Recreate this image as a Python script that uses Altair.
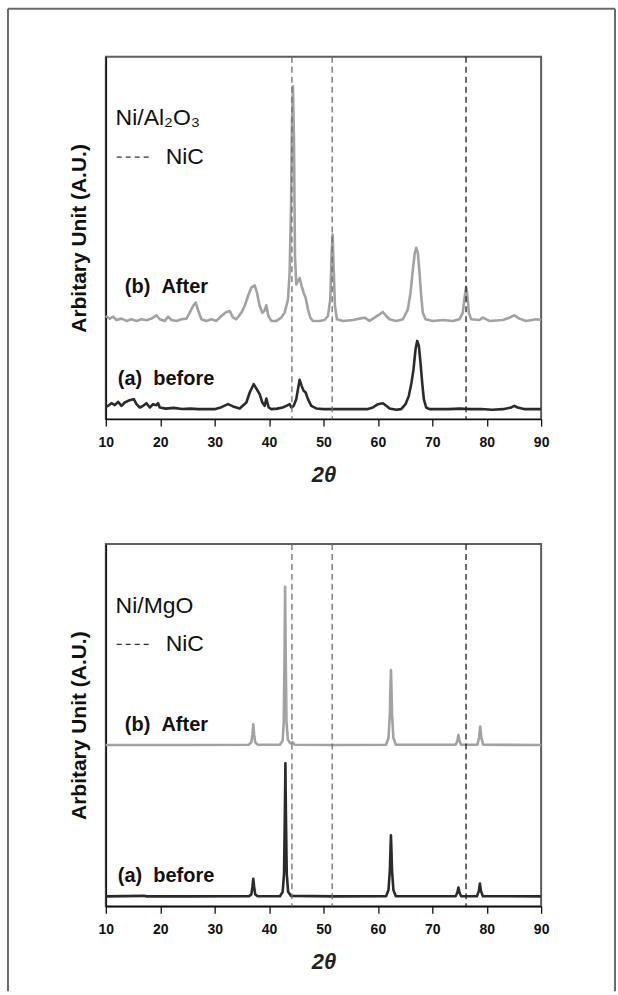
import altair as alt
import pandas as pd

# ---------------- text / categories ----------------
X_TICKS = [10, 20, 30, 40, 50, 60, 70, 80, 90]
NIC_PEAKS = [44.2, 51.6, 76.2]
PANEL_NAMES = ["Ni/Al₂O₃", "Ni/MgO"]
LEGEND_NAME = "NiC"
SERIES_NAMES = ["(b)\u00a0\u00a0After", "(a)\u00a0\u00a0before"]
X_TITLE = "2θ"
Y_TITLE = "Arbitary Unit (A.U.)"

# ---------------- Ni/Al2O3 : (a) before ----------------
AL_BEFORE_THETA = [10.0, 10.43, 11.04, 11.65, 12.26, 12.88, 13.49, 14.10, 14.71, 15.14,
                   15.63, 16.24, 16.85, 17.47, 18.08, 18.69, 19.30, 19.61, 19.91, 21.0,
                   22.5, 24.0, 25.5, 27.0, 28.5, 30.0, 31.24, 32.46, 33.38, 34.60,
                   35.83, 36.44, 37.17, 37.66, 38.27, 38.76, 39.19, 39.50, 39.93, 40.42,
                   41.5, 42.5, 43.17, 43.78, 44.09, 44.52, 45.0, 45.31, 45.62, 45.99,
                   46.35, 46.72, 47.15, 47.76, 48.68, 50.0, 52.0, 54.0, 56.0, 58.0,
                   59.08, 60.0, 60.92, 61.53, 62.14, 63.37, 64.28, 65.08, 65.69, 66.18,
                   66.55, 66.92, 67.22, 67.53, 67.83, 68.14, 68.44, 68.87, 69.49, 71.0,
                   73.0, 75.0, 77.0, 79.0, 81.0, 83.0, 84.48, 85.09, 85.7, 87.0,
                   88.5, 90.0]
AL_BEFORE_VALUE = [3.4, 3.67, 4.40, 3.85, 4.77, 3.67, 4.59, 5.05, 5.32, 5.51,
                   4.13, 3.21, 3.67, 4.40, 3.21, 4.13, 3.85, 4.40, 3.21, 2.9,
                   3.1, 2.8, 2.9, 2.75, 2.8, 2.75, 3.3, 4.13, 3.5, 2.94,
                   4.59, 7.34, 9.64, 8.44, 6.88, 4.59, 3.67, 5.69, 3.21, 2.75,
                   2.9, 3.2, 3.67, 4.13, 3.21, 3.67, 5.51, 8.26, 10.84, 9.18,
                   7.80, 7.34, 5.51, 3.67, 2.94, 2.75, 2.8, 2.75, 2.8, 2.75,
                   3.21, 4.13, 4.40, 3.67, 2.94, 2.57, 2.75, 4.13, 6.42, 10.1,
                   13.77, 19.28, 21.58, 20.2, 15.6, 10.1, 5.51, 3.21, 2.75, 2.8,
                   2.75, 2.9, 2.75, 2.8, 2.6, 2.75, 3.21, 3.67, 3.21, 2.75,
                   2.8, 2.75]

# ---------------- Ni/Al2O3 : (b) After ----------------
AL_AFTER_THETA = [10.0, 10.73, 11.35, 11.96, 12.88, 13.79, 14.71, 15.63, 16.55, 17.47,
                  18.38, 19.30, 19.91, 20.83, 21.44, 22.06, 22.97, 23.89, 24.81, 25.42,
                  26.03, 26.52, 27.01, 27.56, 28.48, 29.40, 30.32, 31.24, 32.15, 32.77,
                  33.38, 33.99, 34.91, 35.52, 36.13, 36.74, 37.36, 37.78, 38.27, 38.76,
                  39.13, 39.50, 39.87, 40.42, 41.33, 42.25, 42.86, 43.48, 43.78, 44.03,
                  44.21, 44.39, 44.58, 44.76, 45.0, 45.31, 45.62, 45.99, 46.35, 46.72,
                  47.15, 47.58, 48.07, 49.29, 50.21, 50.82, 51.25, 51.5, 51.68, 51.86,
                  52.11, 52.47, 53.57, 55.41, 56.63, 57.55, 58.47, 59.39, 60.31, 60.92,
                  61.53, 62.14, 63.37, 64.59, 65.51, 66.0, 66.43, 66.79, 67.04, 67.34,
                  67.65, 67.96, 68.26, 68.75, 70.10, 71.93, 73.77, 74.99, 75.61, 75.97,
                  76.22, 76.46, 76.71, 77.14, 78.67, 79.28, 80.51, 82.95, 84.18, 85.09,
                  86.01, 87.23, 89.07, 90.0]
AL_AFTER_VALUE = [28.46, 27.73, 28.28, 27.36, 27.73, 27.09, 27.55, 27.09, 27.55, 27.27,
                  27.73, 28.65, 27.55, 27.09, 28.28, 27.36, 27.09, 27.55, 27.73, 29.38,
                  31.22, 32.14, 29.84, 27.55, 27.09, 27.55, 27.09, 28.46, 29.57, 29.84,
                  28.0, 27.55, 29.38, 31.22, 33.97, 36.27, 36.91, 34.89, 31.22, 29.38,
                  29.84, 31.40, 28.46, 27.09, 27.09, 28.0, 29.38, 33.06, 40.40, 58.77,
                  81.72, 91.82, 77.13, 44.99, 37.19, 38.10, 38.93, 36.73, 34.89, 33.51,
                  30.30, 28.0, 27.09, 27.09, 27.36, 28.46, 33.06, 45.91, 50.96, 42.24,
                  31.22, 27.55, 27.09, 27.36, 27.73, 28.0, 27.09, 28.0, 28.92, 29.57,
                  28.46, 27.55, 27.09, 27.55, 30.30, 34.89, 41.32, 45.91, 47.29, 45.91,
                  40.40, 33.97, 29.38, 27.55, 27.09, 27.36, 27.09, 27.55, 29.38, 33.97,
                  36.55, 33.97, 29.38, 27.55, 27.36, 28.0, 27.09, 27.36, 28.0, 28.65,
                  27.73, 27.09, 27.55, 27.36]

# ---------------- Ni/MgO : (a) before ----------------
MG_BEFORE_THETA = [10.0, 17.0, 17.5, 25.0, 36.3, 36.75, 36.95, 37.1, 37.25, 37.45,
                   37.9, 42.0, 42.5, 42.75, 42.9, 43.0, 43.1, 43.25, 43.5, 44.0,
                   52.0, 61.5, 61.95, 62.2, 62.32, 62.4, 62.48, 62.6, 62.85, 63.3,
                   74.3, 74.6, 74.8, 75.0, 75.3, 78.2, 78.55, 78.75, 78.95, 79.3,
                   90.0]
MG_BEFORE_VALUE = [2.75, 2.9, 2.75, 2.75, 2.8, 3.3, 5.5, 7.6, 5.5, 3.3,
                   2.8, 2.8, 4.0, 9.0, 25.0, 39.5, 25.0, 9.0, 4.0, 2.9,
                   2.75, 2.8, 4.5, 10.0, 16.0, 19.6, 16.0, 10.0, 4.5, 2.8,
                   2.8, 3.8, 5.2, 3.8, 2.8, 2.8, 4.2, 6.3, 4.2, 2.8,
                   2.75]

# ---------------- Ni/MgO : (b) After ----------------
MG_AFTER_THETA = [10.0, 25.0, 36.3, 36.75, 36.95, 37.1, 37.25, 37.45, 37.9, 42.0,
                  42.5, 42.7, 42.85, 42.95, 43.05, 43.2, 43.45, 43.9, 44.3, 44.7,
                  52.0, 61.5, 61.95, 62.2, 62.32, 62.4, 62.48, 62.6, 62.85, 63.3,
                  74.3, 74.6, 74.8, 75.0, 75.3, 78.3, 78.6, 78.8, 79.0, 79.35,
                  90.0]
MG_AFTER_VALUE = [44.5, 44.5, 44.6, 45.3, 47.5, 50.2, 47.5, 45.3, 44.6, 44.6,
                  45.8, 51.0, 70.0, 88.2, 70.0, 51.0, 46.0, 45.0, 45.3, 44.6,
                  44.5, 44.6, 46.5, 53.0, 61.0, 65.2, 61.0, 53.0, 46.5, 44.6,
                  44.6, 45.6, 47.3, 45.6, 44.6, 44.6, 46.6, 49.6, 46.6, 44.6,
                  44.5]

# ---------------- styling ----------------
FONT = "Liberation Sans, Arial, Helvetica, sans-serif"
PANEL_W, PANEL_H = 436, 363

X_SCALE = alt.Scale(domain=[10, 90], nice=False, zero=False)
Y_SCALE = alt.Scale(domain=[0, 100], nice=False, zero=False)

X_AXIS = alt.Axis(values=X_TICKS, title=X_TITLE, grid=False, labelFlush=False,
                  tickSize=7, tickWidth=1.3, tickColor="#111", domainColor="#111",
                  domainWidth=1.5, labelFont=FONT, labelFontSize=14,
                  labelFontWeight="bold", labelColor="#111", labelPadding=9,
                  titleFont=FONT, titleFontSize=22, titleFontWeight="bold",
                  titleFontStyle="italic", titleColor="#222", titlePadding=15)
Y_AXIS = alt.Axis(labels=False, ticks=False, grid=False, title=Y_TITLE,
                  domainColor="#111", domainWidth=1.5, titleFont=FONT,
                  titleFontSize=21, titleFontWeight="bold", titleColor="#111",
                  titlePadding=16)


def xenc(field="theta"):
    return alt.X(f"{field}:Q", scale=X_SCALE, axis=X_AXIS)


def yenc(field="value"):
    return alt.Y(f"{field}:Q", scale=Y_SCALE, axis=Y_AXIS)


def panel(before_t, before_v, after_t, after_v, name, label_vals, with_frame):
    assert len(before_t) == len(before_v) and len(after_t) == len(after_v)
    df = pd.DataFrame({
        "theta": list(after_t) + list(before_t),
        "value": list(after_v) + list(before_v),
        "series": ["after"] * len(after_t) + ["before"] * len(before_t),
    })
    traces = alt.Chart(df).mark_line(strokeWidth=2.6, strokeJoin="round").encode(
        x=xenc(), y=yenc(),
        color=alt.Color("series:N",
                        scale=alt.Scale(domain=["after", "before"],
                                        range=["#a2a2a2", "#2b2b2b"]),
                        legend=None),
    )
    nic = alt.Chart(pd.DataFrame({"theta": NIC_PEAKS})).mark_rule(
        strokeDash=[6, 4], strokeWidth=1.3).encode(
        x=xenc(),
        color=alt.when(alt.datum.theta > 70).then(alt.value("#1e1e1e")).otherwise(alt.value("#6e6e6e")),
    )
    leg_line = alt.Chart(pd.DataFrame({"theta": [12.0], "theta2": [18.3], "value": [72.3]})).mark_rule(
        strokeDash=[5, 4], strokeWidth=1.2, color="#333").encode(
        x=xenc(), x2="theta2:Q", y=yenc())
    name_txt = alt.Chart(pd.DataFrame({"theta": [11.8, 21.0], "value": [83.0, 72.3],
                                       "label": [name, LEGEND_NAME]})).mark_text(
        align="left", baseline="middle", font=FONT, fontSize=23, color="#111").encode(
        x=xenc(), y=yenc(), text="label:N")
    ser_txt = alt.Chart(pd.DataFrame({"theta": [13.5, 12.2], "value": label_vals,
                                      "label": SERIES_NAMES})).mark_text(
        align="left", baseline="middle", font=FONT, fontSize=20, fontWeight="bold",
        color="#111").encode(x=xenc(), y=yenc(), text="label:N")
    layers = [traces, nic, leg_line, name_txt, ser_txt]
    if with_frame:
        one = pd.DataFrame({"k": [0]})
        left = alt.Chart(one).mark_rule(color="#6b6b6b", strokeWidth=2).encode(
            x=alt.value(-98), y=alt.value(-48), y2=alt.value(936))
        right = alt.Chart(one).mark_rule(color="#6b6b6b", strokeWidth=2).encode(
            x=alt.value(510), y=alt.value(-48), y2=alt.value(936))
        top = alt.Chart(one).mark_rule(color="#6b6b6b", strokeWidth=2).encode(
            x=alt.value(-98), x2=alt.value(510), y=alt.value(-48))
        layers += [left, right, top]
    return alt.layer(*layers).properties(width=PANEL_W, height=PANEL_H)


p1 = panel(AL_BEFORE_THETA, AL_BEFORE_VALUE, AL_AFTER_THETA, AL_AFTER_VALUE,
           PANEL_NAMES[0], [36.4, 11.0], True)
p2 = panel(MG_BEFORE_THETA, MG_BEFORE_VALUE, MG_AFTER_THETA, MG_AFTER_VALUE,
           PANEL_NAMES[1], [49.9, 8.4], False)

chart = alt.vconcat(p1, p2, spacing=125, bounds="flush").properties(
    padding={"left": 6, "top": 6, "right": 1, "bottom": 0},
    background="white",
).configure_view(stroke="#5e5e5e", strokeWidth=2)

chart.save("out.html", embed_options={"renderer": "svg", "actions": False})
